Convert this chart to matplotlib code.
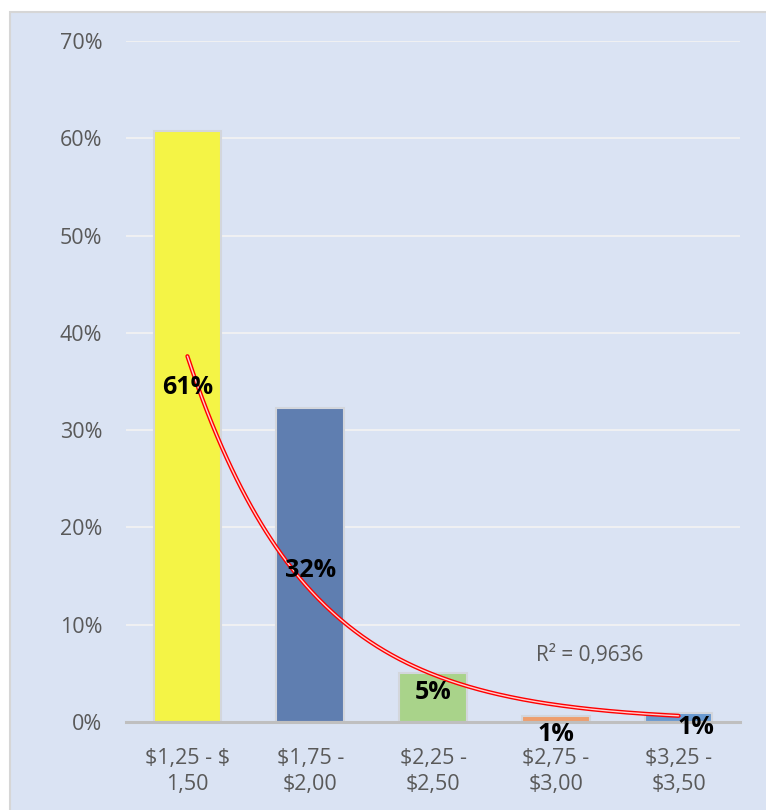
import numpy as np
import matplotlib
import matplotlib.pyplot as plt
from matplotlib.patches import Rectangle

matplotlib.use('Agg')

# Data (percent)
categories = ['$1,25 - $\n1,50', '$1,75 -\n$2,00', '$2,25 -\n$2,50', '$2,75 -\n$3,00', '$3,25 -\n$3,50']
shares = [60.7, 32.3, 5.0, 0.6, 0.9]
share_labels = ['61%', '32%', '5%', '1%', '1%']
bar_colors = ['#F4F446', '#5F7EB0', '#A9D38A', '#EE9E6E', '#6A9AD0']
y_ticks = [0, 10, 20, 30, 40, 50, 60, 70]
y_tick_labels = ['0%', '10%', '20%', '30%', '40%', '50%', '60%', '70%']

# Exponential trendline as drawn (y = a * exp(b * i)), and its R²
trend_a = 37.6
trend_b = -1.02
r_squared = '0,9636'

# label placement (data units), manually nudged like in the source chart
label_dx = [0, 0, 0, 0, 0.14]
label_y = [34.4, 15.6, 3.0, -1.3, -0.6]

bg = '#DAE3F3'
plt.rcParams['font.family'] = ['Open Sans', 'DejaVu Sans']
plt.rcParams['text.parse_math'] = False  # keep "$" literal in the tick labels

fig = plt.figure(figsize=(7.66, 8.10), dpi=100)
fig.patch.set_facecolor('white')
frame = Rectangle((10 / 766, -0.01), 1.0, 1 - 12 / 810 + 0.01,
                  transform=fig.transFigure, facecolor=bg,
                  edgecolor='#D6D6D6', linewidth=1.5, zorder=-10)
fig.patches.append(frame)

ax = fig.add_axes([126 / 766, 88 / 810, 614 / 766, 681 / 810])
ax.set_facecolor('none')

x = np.arange(len(categories))
ax.bar(x, shares, width=0.55, color=bar_colors, edgecolor='#D3D6DC', linewidth=1.5, zorder=2)

# trendline: red double line
tx = np.linspace(0, len(categories) - 1, 200)
ty = trend_a * np.exp(trend_b * tx)
ax.plot(tx, ty, color='#FF0000', lw=3.0, solid_capstyle='round', zorder=4)
ax.plot(tx, ty, color='#FFD0D0', lw=1.0, solid_capstyle='round', zorder=5)

for i, lab in enumerate(share_labels):
    ax.text(x[i] + label_dx[i], label_y[i], lab, ha='center', va='center',
            fontsize=18, fontweight='bold', color='black', zorder=6)

ax.text(2.84, 6.8, 'R² = ' + r_squared, ha='left', va='center', fontsize=15, color='#595959', zorder=6)

ax.set_xlim(-0.5, len(categories) - 0.5)
ax.set_ylim(0, 70)
ax.set_yticks(y_ticks)
ax.set_yticklabels(y_tick_labels)
ax.set_xticks(x)
ax.set_xticklabels(categories, linespacing=1.3)
ax.tick_params(axis='y', length=0, pad=17, labelsize=15.5, labelcolor='#595959')
ax.tick_params(axis='x', length=0, pad=19, labelsize=15.5, labelcolor='#595959')

ax.grid(axis='y', color='#F2F2F2', linewidth=1.3, zorder=1)
ax.set_axisbelow(True)
for s in ['top', 'right', 'left']:
    ax.spines[s].set_visible(False)
ax.spines['bottom'].set_color('#BFBFBF')
ax.spines['bottom'].set_linewidth(2.2)
ax.spines['bottom'].set_zorder(3)

plt.savefig('out.png', dpi=100, facecolor=fig.get_facecolor())
plt.close()
